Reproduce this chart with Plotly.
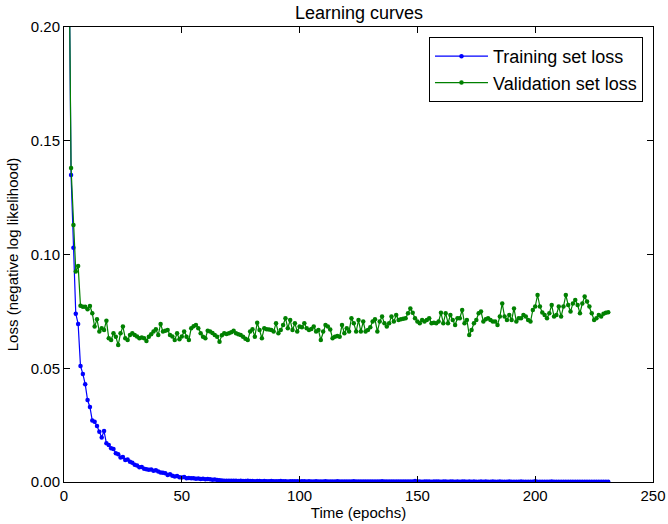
import plotly.graph_objects as go

epochs = list(range(1, 232))

train_loss = [
    0.42, 0.25, 0.135, 0.103, 0.074, 0.0695, 0.051, 0.0475, 0.043, 0.036,
    0.033, 0.027, 0.0265, 0.0246, 0.0221, 0.0196, 0.0224, 0.017, 0.0163, 0.0148,
    0.0145, 0.0126, 0.0122, 0.0108, 0.0110, 0.0097, 0.0099, 0.0089, 0.0085, 0.0076,
    0.0072, 0.0065, 0.0066, 0.0058, 0.0056, 0.0054, 0.0055, 0.0049, 0.0052, 0.0046,
    0.0042, 0.0041, 0.0038, 0.0031, 0.0034, 0.0028, 0.0024, 0.0026, 0.0021, 0.0020,
    0.0022, 0.0017, 0.0018, 0.0016, 0.0017, 0.0014, 0.0015, 0.0013, 0.0014, 0.0012,
    0.0013, 0.0012, 0.0010, 0.0011, 0.0009, 0.0008, 0.0007, 0.0006, 0.0006, 0.0005,
    0.0006, 0.0005, 0.0005, 0.0004, 0.0005, 0.0004, 0.0004, 0.0005, 0.0004, 0.0004,
    0.0003, 0.0004, 0.0004, 0.0003, 0.0004, 0.0003, 0.0003, 0.0004, 0.0003, 0.0003,
    0.0003, 0.0004, 0.0003, 0.0003, 0.0002, 0.0003, 0.0003, 0.0003, 0.0003, 0.0002,
    0.0003, 0.0003, 0.0002, 0.0003, 0.0002, 0.0002, 0.0003, 0.0002, 0.0002, 0.0002,
    0.0003, 0.0002, 0.0002, 0.0002, 0.0002, 0.0003, 0.0002, 0.0002, 0.0002, 0.0002,
    0.0002, 0.0002, 0.0003, 0.0002, 0.0002, 0.0002, 0.0002, 0.0002, 0.0002, 0.0002,
    0.0002, 0.0002, 0.0002, 0.0002, 0.0003, 0.0002, 0.0002, 0.0002, 0.0002, 0.0002,
    0.0002, 0.0002, 0.0002, 0.0002, 0.0002, 0.0002, 0.0002, 0.0002, 0.0004, 0.0002,
    0.0002, 0.0001, 0.0002, 0.0002, 0.0002, 0.0001, 0.0002, 0.0002, 0.0002, 0.0001,
    0.0002, 0.0002, 0.0001, 0.0002, 0.0002, 0.0001, 0.0002, 0.0001, 0.0002, 0.0002,
    0.0001, 0.0002, 0.0001, 0.0002, 0.0001, 0.0001, 0.0002, 0.0001, 0.0002, 0.0001,
    0.0001, 0.0002, 0.0001, 0.0001, 0.0002, 0.0001, 0.0001, 0.0001, 0.0002, 0.0001,
    0.0001, 0.0001, 0.0001, 0.0002, 0.0001, 0.0001, 0.0001, 0.0001, 0.0001, 0.0003,
    0.0001, 0.0001, 0.0001, 0.0001, 0.0001, 0.0001, 0.0002, 0.0001, 0.0001, 0.0001,
    0.0001, 0.0001, 0.0001, 0.0001, 0.0001, 0.0001, 0.0001, 0.0001, 0.0001, 0.0001,
    0.0001, 0.0001, 0.0001, 0.0001, 0.0001, 0.0001, 0.0001, 0.0001, 0.0001, 0.0001,
    0.0001,
]

valid_loss = [
    0.45, 0.25, 0.138, 0.113, 0.0925, 0.0950, 0.0775, 0.0770, 0.0770, 0.0759,
    0.0774, 0.0742, 0.0683, 0.0715, 0.0661, 0.0676, 0.0668, 0.0709, 0.0632, 0.0624,
    0.0654, 0.0639, 0.0602, 0.0654, 0.0683, 0.0632, 0.0624, 0.0646, 0.0654, 0.0646,
    0.0640, 0.0632, 0.0635, 0.0632, 0.0620, 0.0639, 0.0650, 0.0661, 0.0671, 0.0646,
    0.0695, 0.0661, 0.0665, 0.0668, 0.0646, 0.0640, 0.0624, 0.0654, 0.0627, 0.0640,
    0.0661, 0.0639, 0.0624, 0.0676, 0.0685, 0.0690, 0.0676, 0.0654, 0.0639, 0.0632,
    0.0665, 0.0661, 0.0655, 0.0646, 0.0639, 0.0617, 0.0645, 0.0654, 0.0651, 0.0654,
    0.0658, 0.0665, 0.0654, 0.0650, 0.0646, 0.0639, 0.0630, 0.0624, 0.0661, 0.0671,
    0.0639, 0.0700, 0.0668, 0.0632, 0.0676, 0.0671, 0.0670, 0.0668, 0.0661, 0.0698,
    0.0654, 0.0668, 0.0690, 0.0720, 0.0676, 0.0712, 0.0668, 0.0698, 0.0661, 0.0683,
    0.0680, 0.0698, 0.0676, 0.0668, 0.0672, 0.0683, 0.0661, 0.0668, 0.0624, 0.0661,
    0.0690, 0.0683, 0.0670, 0.0632, 0.0639, 0.0642, 0.0639, 0.0690, 0.0654, 0.0676,
    0.0661, 0.0720, 0.0698, 0.0661, 0.0712, 0.0661, 0.0705, 0.0661, 0.0668, 0.0680,
    0.0705, 0.0715, 0.0661, 0.0705, 0.0727, 0.0698, 0.0683, 0.0698, 0.0727, 0.0705,
    0.0734, 0.0712, 0.0715, 0.0718, 0.0720, 0.0742, 0.0763, 0.0744, 0.0720, 0.0705,
    0.0698, 0.0712, 0.0705, 0.0712, 0.0720, 0.0698, 0.0700, 0.0698, 0.0705, 0.0744,
    0.0698, 0.0742, 0.0698, 0.0734, 0.0712, 0.0690, 0.0720, 0.0720, 0.0756, 0.0698,
    0.0712, 0.0646, 0.0668, 0.0698, 0.0712, 0.0742, 0.0749, 0.0705, 0.0715, 0.0720,
    0.0712, 0.0705, 0.0705, 0.0690, 0.0727, 0.0785, 0.0727, 0.0712, 0.0734, 0.0712,
    0.0763, 0.0705, 0.0720, 0.0720, 0.0734, 0.0727, 0.0712, 0.0705, 0.0756, 0.0771,
    0.0822, 0.0771, 0.0745, 0.0734, 0.0720, 0.0742, 0.0778, 0.0727, 0.0734, 0.0771,
    0.0727, 0.0771, 0.0822, 0.0778, 0.0749, 0.0785, 0.0800, 0.0778, 0.0742, 0.0785,
    0.0815, 0.0793, 0.0771, 0.0742, 0.0712, 0.0720, 0.0734, 0.0727, 0.0740, 0.0744,
    0.0746,
]

x_ticks = [0, 50, 100, 150, 200, 250]
y_ticks = [0.00, 0.05, 0.10, 0.15, 0.20]

FONT = "Liberation Sans, Arial, Helvetica, sans-serif"

fig = go.Figure()
fig.add_trace(go.Scatter(
    x=epochs, y=train_loss, mode="lines+markers", name="Training set loss",
    line=dict(color="#0000ff", width=1.2),
    marker=dict(color="#0000ff", size=4.5),
))
fig.add_trace(go.Scatter(
    x=epochs, y=valid_loss, mode="lines+markers", name="Validation set loss",
    line=dict(color="#008000", width=1.2),
    marker=dict(color="#008000", size=4.5),
))

axis_common = dict(
    showline=True, linecolor="black", linewidth=1, mirror="ticks",
    ticks="inside", ticklen=6, tickcolor="black", tickwidth=1,
    showgrid=False, zeroline=False, automargin=False,
    tickfont=dict(family=FONT, size=15, color="black"),
)

fig.update_layout(
    width=668, height=524,
    margin=dict(l=64, r=15, t=27, b=42, autoexpand=False),
    paper_bgcolor="white", plot_bgcolor="white",
    title=dict(text="Learning curves", x=0.5375, xanchor="center", y=0.975, yanchor="middle",
               font=dict(family=FONT, size=18, color="black")),
    font=dict(family=FONT, color="black"),
    showlegend=True,
    legend=dict(x=0.983, y=0.978, xanchor="right", yanchor="top",
                bordercolor="black", borderwidth=1, bgcolor="white",
                font=dict(family=FONT, size=18, color="black"),
                itemwidth=53, tracegroupgap=0),
)
fig.update_xaxes(range=[0, 250], tickvals=x_ticks, ticktext=[str(v) for v in x_ticks],
                 title=dict(text="Time (epochs)", font=dict(family=FONT, size=15, color="black"), standoff=4),
                 **axis_common)
fig.update_yaxes(range=[0, 0.2], tickvals=y_ticks, ticktext=[f"{v:.2f}" for v in y_ticks],
                 title=dict(text="Loss (negative log likelihood)", font=dict(family=FONT, size=15, color="black"), standoff=8),
                 **axis_common)

fig.write_html("out.html", config={"displayModeBar": False},
               post_script="document.body.style.margin='0';")
